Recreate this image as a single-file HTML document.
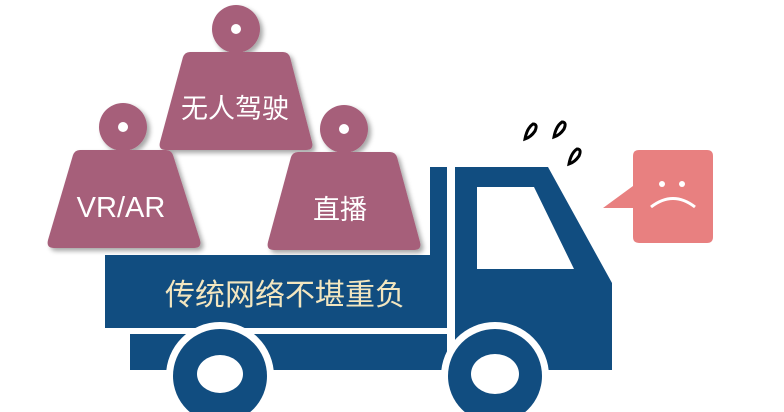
<!DOCTYPE html>
<html><head><meta charset="utf-8"><style>
html,body{margin:0;padding:0;background:#fff;}
svg{display:block;font-family:"Liberation Sans","Noto Sans CJK SC",sans-serif;}
</style></head><body>
<svg width="784" height="412" viewBox="0 0 784 412">
<defs><filter id="sh" x="-20%" y="-20%" width="150%" height="150%"><feDropShadow dx="3" dy="3" stdDeviation="2.5" flood-color="#000" flood-opacity="0.35"/></filter></defs>
<g fill="#114D80">
  <rect x="105" y="255" width="342" height="73"/>
  <rect x="430" y="167" width="17" height="161"/>
  <rect x="130" y="334" width="317" height="36"/>
  <path d="M455 167 L548 167 L612 283 L612 370 L455 370 Z M477 187 L477 269 L574 269 L534 187 Z" fill-rule="evenodd"/>
  <circle cx="220" cy="376" r="54" fill="#fff"/>
  <circle cx="220" cy="376" r="47"/>
  <ellipse cx="220" cy="374" rx="23" ry="19" fill="#fff"/>
  <circle cx="495" cy="376" r="54" fill="#fff"/>
  <circle cx="495" cy="376" r="47"/>
  <ellipse cx="495" cy="374" rx="24" ry="20" fill="#fff"/>
</g>
<text x="285" y="305" text-anchor="middle" font-size="30" fill="#F3E6BF">传统网络不堪重负</text>
<g fill="#A65E7A" filter="url(#sh)">
  <g>
    <circle cx="123" cy="127" r="24"/><path d="M80 150 L166 150 Q171 150 173 155 L200 240 Q202 248 194 248 L54 248 Q46 248 48 240 L73 155 Q75 150 80 150 Z"/>
  </g>
  <g>
    <circle cx="236" cy="29" r="24"/><path d="M190 52 L283 52 Q288 52 290 57 L312 142 Q314 150 306 150 L166 150 Q158 150 160 142 L183 57 Q185 52 190 52 Z"/>
  </g>
  <g>
    <circle cx="344" cy="129" r="24"/><path d="M298 152 L390 152 Q395 152 397 157 L420 242 Q422 250 414 250 L274 250 Q266 250 268 242 L291 157 Q293 152 298 152 Z"/>
  </g>
</g>
<g fill="#fff">
  <circle cx="123" cy="127" r="5"/><circle cx="236" cy="29" r="5"/><circle cx="344" cy="129" r="5"/>
</g>
<text x="121" y="217" text-anchor="middle" font-size="29" fill="#fff">VR/AR</text>
<text x="235" y="118" text-anchor="middle" font-size="27" fill="#fff">无人驾驶</text>
<text x="340" y="219" text-anchor="middle" font-size="27" fill="#fff">直播</text>
<g fill="none" stroke="#000" stroke-width="3">
  <path d="M525 139 Q527 128 533 124 Q538 124 535 131 Q531 137 525 139 Z"/>
  <path d="M554 137 Q556 126 562 122 Q567 122 564 129 Q560 135 554 137 Z"/>
  <path d="M569 164 Q571 153 577 149 Q582 149 579 156 Q575 162 569 164 Z"/>
</g>
<g>
  <path d="M639 150 L707 150 Q713 150 713 156 L713 237 Q713 243 707 243 L639 243 Q633 243 633 237 L633 208 L603 208 L633 186 L633 156 Q633 150 639 150 Z" fill="#E88080"/>
  <circle cx="662" cy="184" r="3" fill="#fff"/><circle cx="682" cy="184" r="3" fill="#fff"/>
  <path d="M651 207 Q673 190 695 207" fill="none" stroke="#fff" stroke-width="3"/>
</g>
</svg>
</body></html>
